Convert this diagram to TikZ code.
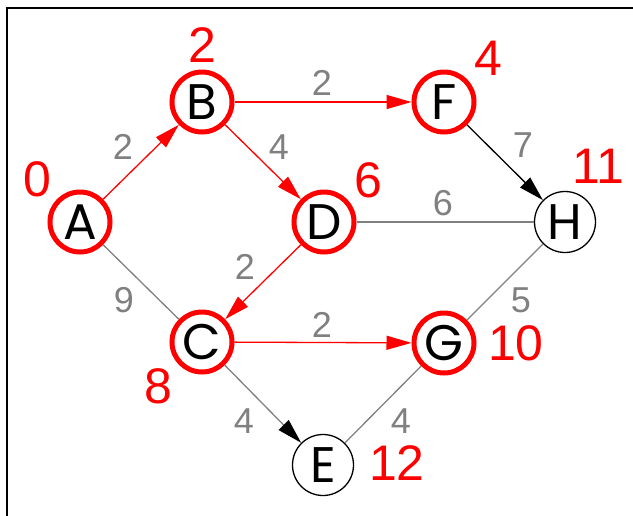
\documentclass[tikz,border=0pt]{standalone}
\usepackage{fontspec}
\setmainfont{Liberation Sans}
\newfontfamily\letterfont{Poppins}
\usetikzlibrary{arrows.meta}
\definecolor{wgray}{RGB}{128,128,128}
\begin{document}
\begin{tikzpicture}[x=1pt,y=-1pt,
  visited/.style={circle,draw=red,line width=5pt,minimum size=60pt,inner sep=0pt,font=\letterfont\fontsize{50}{50}\selectfont},
  plain/.style={circle,draw=black,line width=1.3pt,minimum size=61pt,inner sep=0pt,font=\letterfont\fontsize{50}{50}\selectfont},
  dist/.style={text=red,inner sep=0pt,font=\fontsize{50}{50}\selectfont},
  wt/.style={text=wgray,inner sep=0pt,font=\fontsize{36}{36}\selectfont},
  tipr/.style={-{Triangle[length=25pt,width=14pt]}},
  redarrow/.style={draw=red,line width=1.3pt,tipr},
  blackarrow/.style={draw=black,line width=1.3pt,tipr},
  grayline/.style={draw=wgray,line width=1.3pt},
  frameline/.style={draw=black,line width=2pt}
]
\useasboundingbox (0,0) rectangle (633,515);
\coordinate (f1) at (7,516);
\coordinate (f2) at (7,8);
\coordinate (f3) at (634,8);
\draw[frameline] (f1) -- (f2) -- (f3);

\node[visited] (A) at (80,222) {A};
\node[visited] (B) at (202,102) {B};
\node[visited] (F) at (444,102) {F};
\node[visited] (D) at (324,222) {D};
\node[plain]   (H) at (565,222) {H};
\node[visited] (C) at (202,342) {C};
\node[visited] (G) at (444,343) {G};
\node[plain]   (E) at (323,465) {E};

\draw[redarrow] (A) -- (B);
\draw[redarrow] (B) -- (F);
\draw[redarrow] (B) -- (D);
\draw[redarrow] (D) -- (C);
\draw[redarrow] (C) -- (G);
\draw[blackarrow] (F) -- (H);
\draw[grayline] (A) -- (C);
\draw[grayline] (D) -- (H);
\draw[grayline] (G) -- (H);
\draw[grayline] (G) -- (E);
\draw[grayline,-{Triangle[length=25pt,width=14pt,color=black]}] (C) -- (E);

\node[wt] (wAB) at (123,147) {2};
\node[wt] (wBD) at (279,147) {4};
\node[wt] (wBF) at (322,83) {2};
\node[wt] (wFH) at (523,145) {7};
\node[wt] (wDH) at (443,203) {6};
\node[wt] (wDC) at (245,267) {2};
\node[wt] (wAC) at (124,300) {9};
\node[wt] (wCG) at (322,325) {2};
\node[wt] (wGH) at (521,300) {5};
\node[wt] (wCE) at (244,421) {4};
\node[wt] (wGE) at (401,421) {4};

\node[dist] (dA) at (37,179) {0};
\node[dist] (dB) at (202,45) {2};
\node[dist] (dF) at (488,58) {4};
\node[dist] (dD) at (368,180) {6};
\node[dist] (dH) at (598,166) {11};
\node[dist] (dC) at (158,386) {8};
\node[dist] (dG) at (516,343) {10};
\node[dist] (dE) at (397,463) {12};
\end{tikzpicture}
\end{document}
